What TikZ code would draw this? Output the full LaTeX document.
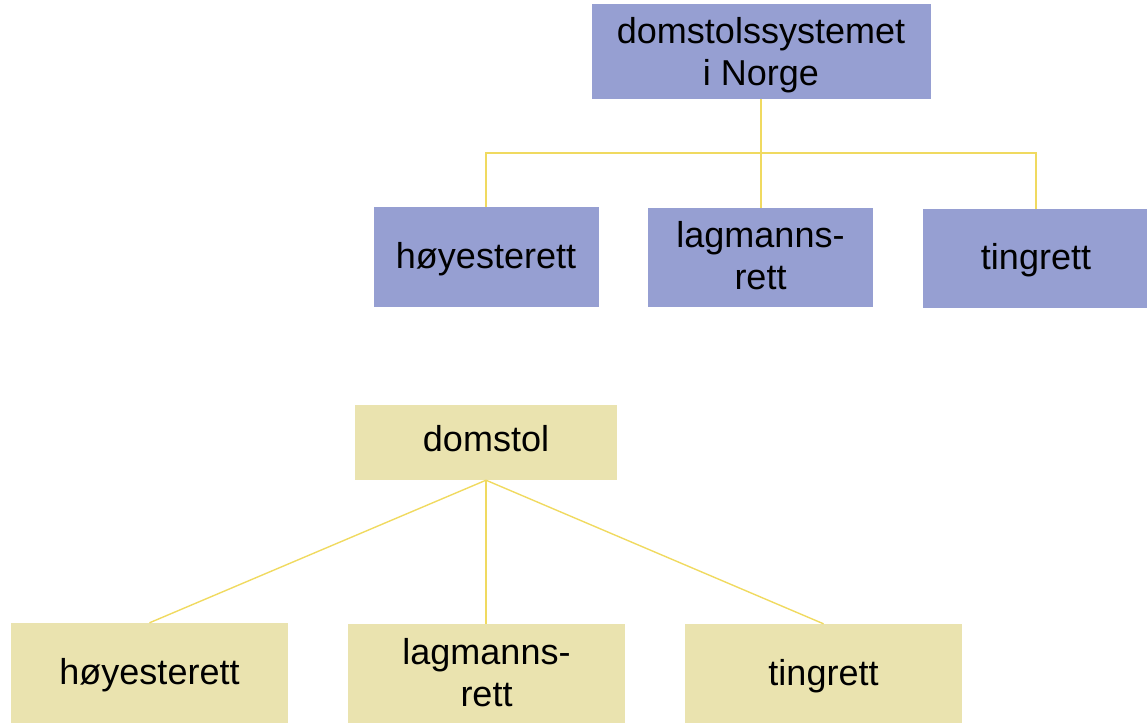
\documentclass[tikz,border=0pt]{standalone}
\usepackage{fontspec}
\setmainfont{Liberation Sans}
\definecolor{boxblue}{RGB}{150,159,210}
\definecolor{boxyellow}{RGB}{234,227,175}
\definecolor{lineyellow}{RGB}{240,218,96}
\newcommand\dropT[2]{\raisebox{-#1}[\height][\depth]{\begin{tabular}{@{}c@{}}#2\end{tabular}}}
\begin{document}
\begin{tikzpicture}[x=1pt,y=-1pt,
  bluebox/.style={rectangle, fill=boxblue, inner sep=0pt, align=center, font=\fontsize{36}{42}\selectfont},
  yelbox/.style={rectangle, fill=boxyellow, inner sep=0pt, align=center, font=\fontsize{36}{42}\selectfont},
  link/.style={draw=lineyellow, line width=1.4pt}]
\useasboundingbox (0,0) rectangle (1147,722);
% top tree
\node[bluebox, minimum width=339pt, minimum height=95pt] (root) at (761,51.5) {\dropT{4.5pt}{domstolssystemet\\i Norge}};
\node[bluebox, minimum width=225pt, minimum height=100pt] (hoy) at (486,257) {\dropT{3pt}{høyesterett}};
\node[bluebox, minimum width=225pt, minimum height=99pt] (lag) at (760.5,257.5) {\dropT{3pt}{lagmanns-\\rett}};
\node[bluebox, minimum width=226pt, minimum height=99pt] (ting) at (1036,258.5) {\dropT{3pt}{tingrett}};
\coordinate (bar) at (761,153);
\draw[link] (root.south) -- (root.south |- lag.north);
\draw[link] (hoy.north) |- (bar) -| (ting.north);
% bottom tree
\node[yelbox, minimum width=262pt, minimum height=75pt] (dom) at (486,442.5) {\dropT{1pt}{domstol}};
\node[yelbox, minimum width=277pt, minimum height=100pt] (bh) at (149.5,673) {\dropT{3pt}{høyesterett}};
\node[yelbox, minimum width=277pt, minimum height=100pt] (bl) at (486.5,674) {\dropT{3pt}{lagmanns-\\rett}};
\node[yelbox, minimum width=277pt, minimum height=100pt] (bt) at (823.5,674) {\dropT{3pt}{tingrett}};
\draw[link] (dom.south) -- (bh.north);
\draw[link] (dom.south) -- (dom.south |- bl.north);
\draw[link] (dom.south) -- (bt.north);
\end{tikzpicture}
\end{document}
